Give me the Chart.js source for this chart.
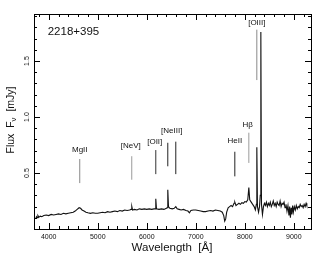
<!DOCTYPE html>
<html><head><meta charset="utf-8">
<script src="https://cdn.jsdelivr.net/npm/chart.js@4.4.0/dist/chart.umd.min.js"></script>
<style>html,body{margin:0;padding:0;background:#fff}canvas{display:block}</style>
</head><body>
<canvas id="c" width="327" height="259"></canvas>
<script>
// ---- data ----
const objectName = '2218+395';
const wavelength = [3735,3750,3765,3780,3800,3830,3860,3900,3950,4000,4050,4100,4150,4200,4250,4300,4350,4400,4450,4500,4540,4580,4620,4650,4680,4720,4760,4800,4850,4900,4950,5000,5050,5100,5150,5200,5250,5300,5350,5400,5450,5500,5550,5600,5650,5680,5695,5710,5750,5800,5850,5900,5950,6000,6050,6100,6150,6170,6184,6198,6250,6300,6350,6400,6415,6429,6443,6470,6520,6560,6592,6620,6660,6700,6750,6800,6840,6870,6900,6950,7000,7050,7100,7150,7200,7250,7300,7350,7400,7450,7500,7540,7570,7590,7610,7630,7660,7690,7720,7750,7780,7796,7820,7850,7880,7910,7940,7970,8000,8030,8060,8082,8100,8130,8160,8190,8215,8235,8245,8258,8280,8300,8315,8327,8340,8360,8380,8400,8420,8440,8460,8480,8500,8520,8540,8560,8580,8600,8620,8640,8660,8680,8700,8720,8740,8760,8780,8800,8820,8840,8860,8880,8900,8915,8930,8945,8960,8975,8990,9010,9030,9050,9070,9090,9110,9130,9150,9170,9190,9210,9230,9250,9265];
const flux = [0.09,0.11,0.10,0.12,0.105,0.115,0.11,0.12,0.125,0.12,0.13,0.125,0.13,0.135,0.13,0.14,0.135,0.14,0.145,0.15,0.16,0.175,0.19,0.185,0.17,0.16,0.15,0.145,0.14,0.145,0.14,0.14,0.145,0.15,0.145,0.155,0.15,0.155,0.16,0.155,0.165,0.16,0.17,0.165,0.17,0.175,0.20,0.17,0.175,0.17,0.18,0.175,0.18,0.175,0.18,0.175,0.18,0.18,0.27,0.18,0.175,0.18,0.175,0.185,0.19,0.35,0.20,0.185,0.18,0.185,0.20,0.18,0.175,0.17,0.175,0.165,0.16,0.145,0.165,0.17,0.17,0.165,0.16,0.155,0.155,0.16,0.165,0.16,0.17,0.165,0.16,0.15,0.12,0.07,0.09,0.15,0.19,0.20,0.21,0.20,0.23,0.24,0.21,0.22,0.23,0.22,0.235,0.23,0.245,0.24,0.26,0.37,0.26,0.24,0.22,0.20,0.17,0.22,0.73,0.20,0.15,0.20,0.30,1.76,0.22,0.13,0.20,0.23,0.21,0.24,0.20,0.23,0.21,0.24,0.20,0.22,0.25,0.21,0.23,0.20,0.24,0.22,0.21,0.25,0.20,0.23,0.22,0.24,0.19,0.22,0.16,0.21,0.12,0.20,0.10,0.19,0.13,0.21,0.15,0.20,0.17,0.21,0.18,0.20,0.19,0.22,0.20,0.21,0.19,0.22,0.20,0.23,0.21];

// emission-line marker bars (wavelength, bottom flux, top flux)
const markerWave = [4633,5694,6184,6429,6592,7796,8082,8245];
const markerLow  = [0.41,0.44,0.49,0.56,0.49,0.47,0.59,1.33];
const markerHigh = [0.625,0.65,0.705,0.77,0.78,0.69,0.86,1.78];
// line labels (text, wavelength, flux)
const labelText = ['MgII','[NeV]','[OII]','[NeIII]','HeII','H\u03B2','[OIII]'];
const labelWave = [4633,5673,6163,6510,7796,8060,8245];
const labelFlux = [0.71,0.74,0.78,0.88,0.785,0.93,1.84];

const xTickLabels = [4000,5000,6000,7000,8000,9000];
const yTickLabels = [0.5,1.0,1.5];

// ---- styles ----
const markerColors = ['#8a8a8a','#9a9a9a','#333','#222','#222','#222','#9a9a9a','#8a8a8a'];
const FONT = '"Liberation Sans", Arial, sans-serif';

const datasets = [{
  data: wavelength.map((w,i)=>({x:w,y:flux[i]})),
  borderColor:'#111', borderWidth:1.1, pointRadius:0, tension:0
}];
markerWave.forEach((w,i)=>datasets.push({
  data:[{x:w,y:markerLow[i]},{x:w,y:markerHigh[i]}],
  borderColor:markerColors[i], borderWidth:1, pointRadius:0
}));

const deco = {
  id:'deco',
  afterDraw(chart){
    const ctx = chart.ctx, xs = chart.scales.x, ys = chart.scales.y, a = chart.chartArea;
    ctx.save();
    ctx.strokeStyle = '#000'; ctx.lineWidth = 1;
    // frame
    ctx.strokeRect(Math.round(a.left)+0.5, Math.round(a.top)+0.5, Math.round(a.right-a.left), Math.round(a.bottom-a.top));
    // inward ticks x
    ctx.beginPath();
    for (let v = Math.ceil(xs.min/200)*200; v <= xs.max; v += 200) {
      const p = Math.round(xs.getPixelForValue(v))+0.5;
      const L = xTickLabels.includes(v) ? 6 : 3;
      ctx.moveTo(p, a.bottom); ctx.lineTo(p, a.bottom - L);
      ctx.moveTo(p, a.top); ctx.lineTo(p, a.top + L);
    }
    for (let k = 1; k * 0.1 <= ys.max; k++) {
      const v = k*0.1;
      const p = Math.round(ys.getPixelForValue(v))+0.5;
      const L = (k % 5 === 0) ? 6 : 3;
      ctx.moveTo(a.left, p); ctx.lineTo(a.left + L, p);
      ctx.moveTo(a.right, p); ctx.lineTo(a.right - L, p);
    }
    ctx.stroke();
    // y tick labels (rotated)
    ctx.fillStyle = '#111';
    ctx.font = '7px ' + FONT;
    ctx.textAlign = 'center'; ctx.textBaseline = 'middle';
    yTickLabels.forEach(v=>{
      ctx.save();
      ctx.translate(a.left - 7, ys.getPixelForValue(v));
      ctx.rotate(-Math.PI/2);
      ctx.fillText(v.toFixed(1), 0, 0);
      ctx.restore();
    });
    // y axis title
    ctx.save();
    ctx.translate(11, 120);
    ctx.rotate(-Math.PI/2);
    ctx.font = '10.5px ' + FONT;
    ctx.textBaseline = 'middle'; ctx.textAlign = 'left';
    const p1 = 'Flux  F', p2 = '\u03BD', p3 = '  [mJy]';
    ctx.font = '10.5px ' + FONT;
    const w1 = ctx.measureText(p1).width, w3 = ctx.measureText(p3).width;
    ctx.font = '8px ' + FONT;
    const w2 = ctx.measureText(p2).width;
    const tot = w1 + w2 + w3;
    let x0 = -tot/2;
    ctx.font = '10.5px ' + FONT; ctx.fillText(p1, x0, 0);
    ctx.font = '8px ' + FONT; ctx.fillText(p2, x0 + w1, 3);
    ctx.font = '10.5px ' + FONT; ctx.fillText(p3, x0 + w1 + w2, 0);
    ctx.restore();
    // x axis title
    ctx.font = '11.5px ' + FONT;
    ctx.textAlign = 'center'; ctx.textBaseline = 'middle';
    ctx.fillText('Wavelength  [\u00C5]', 172, 248);
    // object name
    ctx.font = '11.5px ' + FONT;
    ctx.textAlign = 'left';
    ctx.fillText(objectName, xs.getPixelForValue(3980), ys.getPixelForValue(1.76));
    // line labels
    ctx.font = '8px ' + FONT;
    ctx.textAlign = 'center';
    labelText.forEach((t,i)=>{
      ctx.fillText(t, xs.getPixelForValue(labelWave[i]), ys.getPixelForValue(labelFlux[i]));
    });
    ctx.restore();
  }
};

new Chart(document.getElementById('c'), {
  type:'line',
  data:{datasets},
  options:{
    responsive:false, animation:false, devicePixelRatio:1,
    layout:{padding:{top:14,right:16,left:0,bottom:0}},
    plugins:{legend:{display:false}, tooltip:{enabled:false}},
    scales:{
      x:{type:'linear', min:3700, max:9350,
         afterFit(s){ s.height = 30; },
         grid:{display:false, drawTicks:false},
         border:{display:true, color:'#000', width:1},
         ticks:{stepSize:200, autoSkip:false, maxRotation:0, minRotation:0, padding:4, color:'#111',
                font:{size:7, family:FONT},
                callback:(v)=> xTickLabels.includes(v) ? String(v) : ''}},
      y:{type:'linear', min:0, max:1.92,
         afterFit(s){ s.width = 34; },
         grid:{display:false, drawTicks:false},
         border:{display:true, color:'#000', width:1},
         ticks:{stepSize:0.1, display:false}}
    }
  },
  plugins:[deco]
});
</script>
</body></html>
